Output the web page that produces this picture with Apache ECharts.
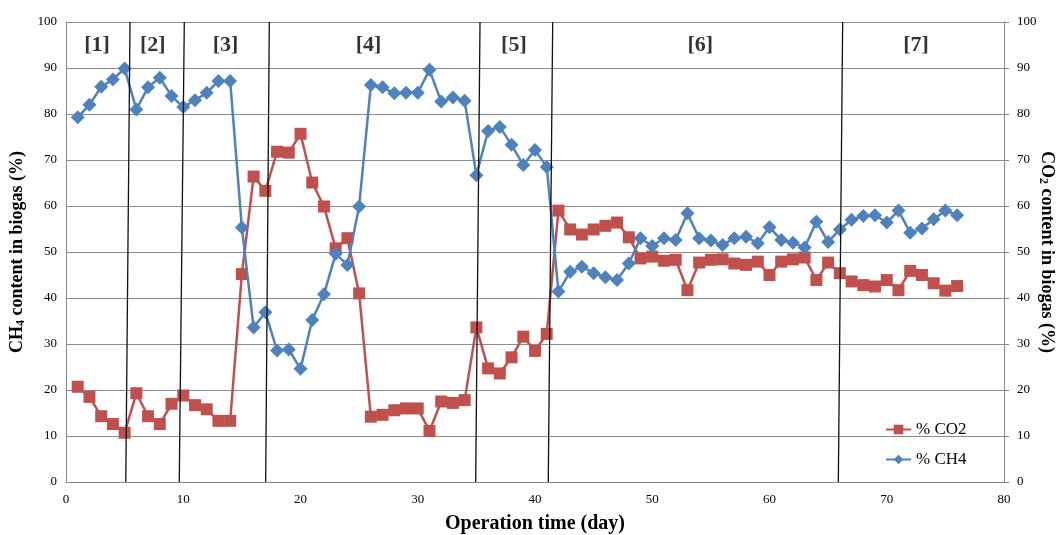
<!DOCTYPE html>
<html>
<head>
<meta charset="utf-8">
<script src="https://cdn.jsdelivr.net/npm/echarts@6/dist/echarts.min.js"></script>
<style>
  html, body { margin: 0; padding: 0; background: #fff; }
  #chart { width: 1057px; height: 535px; }
</style>
</head>
<body>
<div id="chart"></div>
<script>
  // operation days
  var days = [1, 2, 3, 4, 5, 6, 7, 8, 9, 10, 11, 12, 13, 14, 15, 16, 17, 18, 19, 20,
    21, 22, 23, 24, 25, 26, 27, 28, 29, 30, 31, 32, 33, 34, 35, 36, 37, 38, 39, 40,
    41, 42, 43, 44, 45, 46, 47, 48, 49, 50, 51, 52, 53, 54, 55, 56, 57, 58, 59, 60,
    61, 62, 63, 64, 65, 66, 67, 68, 69, 70, 71, 72, 73, 74, 75, 76];

  var ch4 = [79.3, 82.0, 85.9, 87.5, 89.9, 81.0, 85.8, 87.9, 83.9, 81.5,
    83.0, 84.6, 87.2, 87.2, 55.3, 33.6, 36.9, 28.6, 28.8, 24.6,
    35.2, 40.8, 49.6, 47.2, 59.9, 86.3, 85.8, 84.5, 84.6, 84.6,
    89.6, 82.7, 83.6, 82.9, 66.7, 76.3, 77.2, 73.3, 68.9, 72.2,
    68.5, 41.4, 45.7, 46.8, 45.4, 44.5, 43.9, 47.5, 53.0, 51.3,
    53.0, 52.6, 58.4, 53.0, 52.5, 51.5, 53.0, 53.3, 51.9, 55.4,
    52.6, 52.0, 51.0, 56.6, 52.2, 54.9, 57.0, 57.8, 58.0, 56.4,
    59.0, 54.2, 55.1, 57.1, 59.0, 58.0];

  var co2 = [20.7, 18.5, 14.3, 12.6, 10.7, 19.3, 14.3, 12.6, 17.0, 18.8,
    16.7, 15.8, 13.3, 13.3, 45.2, 66.4, 63.3, 71.8, 71.6, 75.7,
    65.1, 59.9, 50.8, 53.0, 41.0, 14.2, 14.6, 15.6, 16.0, 16.0,
    11.1, 17.5, 17.2, 17.8, 33.6, 24.7, 23.6, 27.1, 31.6, 28.5,
    32.2, 59.0, 54.9, 53.8, 54.9, 55.7, 56.4, 53.2, 48.6, 49.0,
    48.1, 48.3, 41.7, 47.7, 48.3, 48.4, 47.5, 47.2, 47.9, 45.0,
    47.9, 48.4, 48.8, 43.9, 47.7, 45.4, 43.6, 42.8, 42.5, 43.9,
    41.7, 45.9, 45.0, 43.2, 41.6, 42.6];

  // phase boundaries (hand drawn, slightly slanted): day at 0% and at 100%
  var phaseLineBottom = [5.1, 9.66, 17.03, 34.94, 41.13, 65.87];
  var phaseLineTop = [5.46, 10.09, 17.34, 35.31, 41.51, 66.24];
  var phaseNames = ['[1]', '[2]', '[3]', '[4]', '[5]', '[6]', '[7]'];
  var phaseLabelDay = [2.64, 7.4, 13.6, 25.8, 38.2, 54.1, 72.5];
  var phaseLabelLevel = 95;

  var xTicks = [0, 10, 20, 30, 40, 50, 60, 70, 80];

  var serif = 'Liberation Serif';
  var red = '#C0504D';
  var blue = '#4F81BD';

  function pairs(ys) {
    return days.map(function (d, i) { return [d, ys[i]]; });
  }

  var chart = echarts.init(document.getElementById('chart'));

  var titleStyle = {
    fontFamily: serif, fontSize: 18, fontWeight: 'bold', color: '#000',
    rich: {
      sub: { fontFamily: serif, fontSize: 12, fontWeight: 'bold', color: '#000', verticalAlign: 'bottom', padding: [7, 0, 0, 0] }
    }
  };

  var option = {
    animation: false,
    grid: { left: 66, right: 53, top: 22, bottom: 53, outerBoundsMode: 'none' },
    legend: {
      orient: 'vertical',
      left: 880,
      top: 416,
      itemWidth: 25,
      itemHeight: 12,
      itemGap: 13,
      textStyle: { fontFamily: serif, fontSize: 17, color: '#000' },
      data: ['% CO2', '% CH4']
    },
    xAxis: {
      type: 'value',
      min: xTicks[0],
      max: xTicks[xTicks.length - 1],
      interval: 10,
      name: 'Operation time (day)',
      nameLocation: 'middle',
      nameGap: 32,
      nameTextStyle: { fontFamily: serif, fontSize: 20, fontWeight: 'bold', color: '#000' },
      axisLine: { lineStyle: { color: '#888' } },
      axisTick: { show: false },
      axisLabel: { fontFamily: serif, fontSize: 13, color: '#000', margin: 11 },
      splitLine: { show: false }
    },
    yAxis: [
      {
        type: 'value',
        min: 0,
        max: 100,
        interval: 10,
        position: 'left',
        name: 'CH{sub|4} content in biogas (%)',
        nameLocation: 'middle',
        nameRotate: 90,
        nameGap: 39,
        nameMoveOverlap: false,
        nameTextStyle: titleStyle,
        axisLine: { show: true, lineStyle: { color: '#888' } },
        axisTick: { show: false },
        axisLabel: { fontFamily: serif, fontSize: 13, color: '#000', margin: 9 },
        splitLine: { lineStyle: { color: '#8c8c8c', width: 1 } }
      },
      {
        type: 'value',
        min: 0,
        max: 100,
        interval: 10,
        position: 'right',
        name: 'CO{sub|2} content in biogas (%)',
        nameLocation: 'middle',
        nameRotate: -90,
        nameGap: 33,
        nameMoveOverlap: false,
        nameTextStyle: titleStyle,
        axisLine: { show: true, lineStyle: { color: '#888' } },
        axisTick: { show: true, length: 5, lineStyle: { color: '#888' } },
        axisLabel: { fontFamily: serif, fontSize: 13, color: '#000', margin: 13 },
        splitLine: { show: false }
      }
    ],
    series: [
      {
        name: 'phases',
        type: 'scatter',
        symbolSize: 0,
        silent: true,
        z: 1,
        label: {
          show: true,
          position: 'inside',
          formatter: '{b}',
          fontFamily: serif,
          fontSize: 22,
          fontWeight: 'bold',
          color: '#000'
        },
        data: phaseNames.map(function (n, i) {
          return { name: n, value: [phaseLabelDay[i], phaseLabelLevel] };
        }),
        markLine: {
          silent: true,
          symbol: 'none',
          label: { show: false },
          lineStyle: { color: '#111', type: 'solid', width: 1.3 },
          data: phaseLineBottom.map(function (d, i) {
            return [{ coord: [d, 0] }, { coord: [phaseLineTop[i], 100] }];
          })
        }
      },
      {
        name: '% CO2',
        type: 'line',
        yAxisIndex: 1,
        data: pairs(co2),
        symbol: 'rect',
        symbolSize: 12,
        z: 3,
        lineStyle: { color: red, width: 2.5 },
        itemStyle: { color: red }
      },
      {
        name: '% CH4',
        type: 'line',
        yAxisIndex: 0,
        data: pairs(ch4),
        symbol: 'diamond',
        symbolSize: 14,
        z: 4,
        lineStyle: { color: blue, width: 2.5 },
        itemStyle: { color: blue }
      }
    ]
  };

  chart.setOption(option);
</script>
</body>
</html>
